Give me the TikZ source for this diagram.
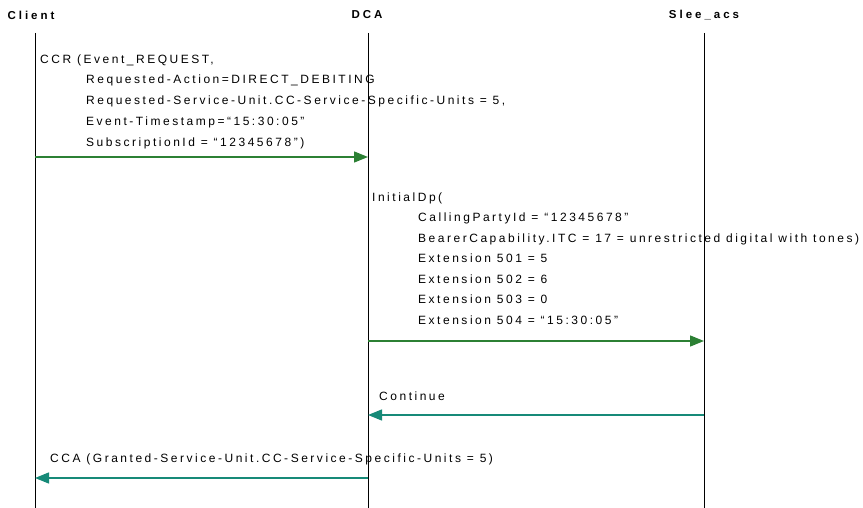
\documentclass[tikz,border=0pt]{standalone}
\usepackage{fontspec}
\setmainfont{Liberation Sans}[LetterSpace=21]
\usepackage{xcolor}
\usetikzlibrary{arrows.meta}
\usetikzlibrary{positioning}
\definecolor{reqgreen}{RGB}{44,128,52}
\definecolor{ansteal}{RGB}{22,138,120}

\begin{document}
\begin{tikzpicture}[x=1pt,y=-1pt,
  every node/.style={inner sep=0pt},
  actor/.style={font=\fontsize{11.5}{13}\selectfont\bfseries\addfontfeatures{LetterSpace=26}},
  msgtext/.style={anchor=base west,align=left,font=\fontsize{12}{21}\selectfont},
  lifeline/.style={line width=0.9pt},
  request/.style={draw=reqgreen,line width=1.4pt,-{Triangle[length=14pt,width=11pt]}},
  answer/.style={draw=ansteal,line width=1.4pt,-{Triangle[length=14pt,width=11pt]}}]
  \useasboundingbox (0,0) rectangle (863,508);

  % actors and lifelines
  \node[actor] (client) at (31,15) {Client};
  \node[actor] (dca) at (367,15) {DCA};
  \node[actor] (slee) at (704,15) {Slee\_acs};
  \coordinate (client top) at (35,33);
  \coordinate (dca top) at (368,33);
  \coordinate (slee top) at (704,33);
  \coordinate (bottom) at (0,508);
  \draw[lifeline] (client top) -- (client top |- bottom);
  \draw[lifeline] (dca top) -- (dca top |- bottom);
  \draw[lifeline] (slee top) -- (slee top |- bottom);

  % CCR (base = last line)
  \node[msgtext] (ccr) at (40,147) {CCR (Event\_REQUEST,\\
    \hspace*{46pt}Requested-Action=DIRECT\_DEBITING\\
    \hspace*{46pt}Requested-Service-Unit.CC-Service-Specific-Units = 5,\\
    \hspace*{46pt}Event-Timestamp=``15:30:05''\\
    \hspace*{46pt}SubscriptionId = ``12345678'')};
  \coordinate (ccr y) at (0,157);
  \draw[request] (client top |- ccr y) -- (dca top |- ccr y);

  % InitialDp
  \node[msgtext,font=\fontsize{12}{20.5}\selectfont] (idp) at (372,324) {InitialDp(\\
    \hspace*{46pt}CallingPartyId = ``12345678''\\
    \hspace*{46pt}BearerCapability.ITC = 17 = unrestricted digital with tones)\\
    \hspace*{46pt}Extension 501 = 5\\
    \hspace*{46pt}Extension 502 = 6\\
    \hspace*{46pt}Extension 503 = 0\\
    \hspace*{46pt}Extension 504 = ``15:30:05''};
  \coordinate (idp y) at (0,341);
  \draw[request] (dca top |- idp y) -- (slee top |- idp y);

  % Continue
  \node[msgtext] (cont) at (379,400) {Continue};
  \coordinate (cont y) at (0,415);
  \draw[answer] (slee top |- cont y) -- (dca top |- cont y);

  % CCA
  \node[msgtext] (cca) at (50,462) {CCA (Granted-Service-Unit.CC-Service-Specific-Units = 5)};
  \coordinate (cca y) at (0,478);
  \draw[answer] (dca top |- cca y) -- (client top |- cca y);
\end{tikzpicture}
\end{document}
